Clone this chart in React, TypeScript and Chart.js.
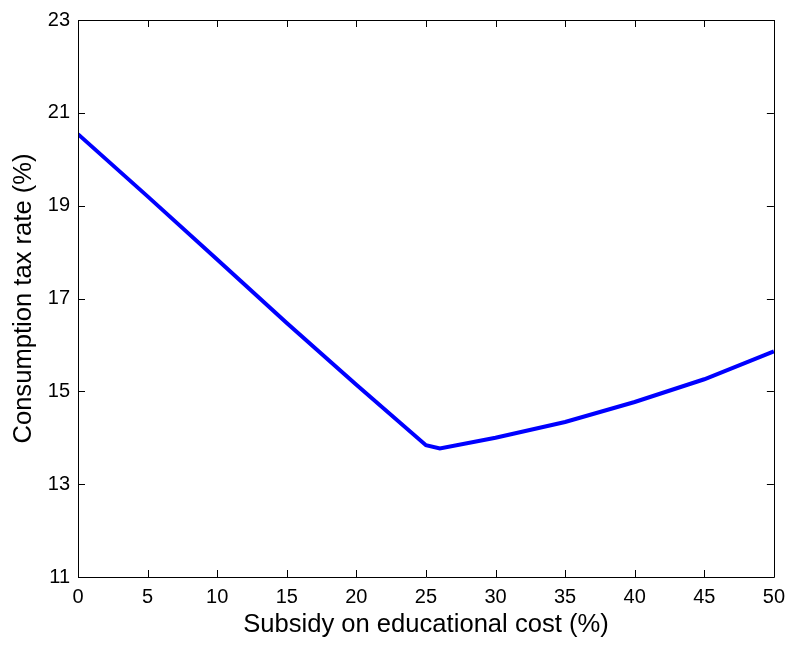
import React, { useEffect, useRef } from "react";
import { Chart, registerables } from "chart.js";

Chart.register(...registerables);

const subsidy = [0, 5, 10, 15, 20, 25, 26, 30, 35, 40, 45, 50];
const taxRate = [20.54, 19.2, 17.84, 16.47, 15.14, 13.84, 13.77, 14.0, 14.34, 14.77, 15.26, 15.86];
const xTicks = [0, 5, 10, 15, 20, 25, 30, 35, 40, 45, 50];
const yTicks = [11, 13, 15, 17, 19, 21, 23];

const FONT = "'Liberation Sans', Arial, sans-serif";

const boxPlugin = {
  id: "matlabBox",
  afterDraw(chart: any) {
    const { ctx, chartArea } = chart;
    const { left, right, top, bottom } = chartArea;
    const xs = chart.scales.x;
    const ys = chart.scales.y;
    ctx.save();
    ctx.strokeStyle = "#000";
    ctx.lineWidth = 1;
    ctx.beginPath();
    ctx.rect(Math.round(left) + 0.5, Math.round(top) + 0.5, Math.round(right - left), Math.round(bottom - top));
    ctx.stroke();
    const tl = 7;
    ctx.beginPath();
    for (const v of xTicks) {
      const px = Math.round(xs.getPixelForValue(v)) + 0.5;
      ctx.moveTo(px, bottom);
      ctx.lineTo(px, bottom - tl);
      ctx.moveTo(px, top);
      ctx.lineTo(px, top + tl);
    }
    for (const v of yTicks) {
      const py = Math.round(ys.getPixelForValue(v)) + 0.5;
      ctx.moveTo(left, py);
      ctx.lineTo(left + tl, py);
      ctx.moveTo(right, py);
      ctx.lineTo(right - tl, py);
    }
    ctx.stroke();
    ctx.restore();
  },
};

export default function App() {
  const ref = useRef<HTMLCanvasElement>(null);
  useEffect(() => {
    if (!ref.current) return;
    const chart = new Chart(ref.current, {
      type: "line",
      data: {
        datasets: [
          {
            data: subsidy.map((x, i) => ({ x, y: taxRate[i] })),
            borderColor: "#0000ff",
            borderWidth: 4,
            pointRadius: 0,
            fill: false,
            tension: 0,
          },
        ],
      },
      options: {
        animation: false,
        responsive: false,
        maintainAspectRatio: false,
        layout: { padding: { left: 0, right: 18, top: 19, bottom: 0 } },
        plugins: { legend: { display: false }, tooltip: { enabled: false } },
        scales: {
          x: {
            type: "linear",
            min: 0,
            max: 50,
            afterBuildTicks: (s: any) => {
              s.ticks = xTicks.map((v) => ({ value: v }));
            },
            afterFit: (s: any) => {
              s.height = 69;
            },
            grid: { display: false, drawTicks: false },
            border: { display: false },
            ticks: { color: "#000", font: { family: FONT, size: 20 }, padding: 8, maxRotation: 0, autoSkip: false },
            title: {
              display: true,
              text: "Subsidy on educational cost (%)",
              color: "#000",
              font: { family: FONT, size: 25.6 },
              padding: { top: 0, bottom: 6 },
            },
          },
          y: {
            type: "linear",
            min: 11,
            max: 23,
            afterBuildTicks: (s: any) => {
              s.ticks = yTicks.map((v) => ({ value: v }));
            },
            afterFit: (s: any) => {
              s.width = 78;
            },
            grid: { display: false, drawTicks: false },
            border: { display: false },
            ticks: { color: "#000", font: { family: FONT, size: 20 }, padding: 8, autoSkip: false },
            title: {
              display: true,
              text: "Consumption tax rate (%)",
              color: "#000",
              font: { family: FONT, size: 25.6 },
              padding: { top: 9, bottom: 4 },
            },
          },
        },
      },
      plugins: [boxPlugin],
    });
    return () => chart.destroy();
  }, []);
  return (
    <div style={{ position: "fixed", left: 0, top: 0, width: 793, height: 646, background: "#fff" }}>
      <canvas ref={ref} width={793} height={646} style={{ width: 793, height: 646, display: "block" }} />
    </div>
  );
}
